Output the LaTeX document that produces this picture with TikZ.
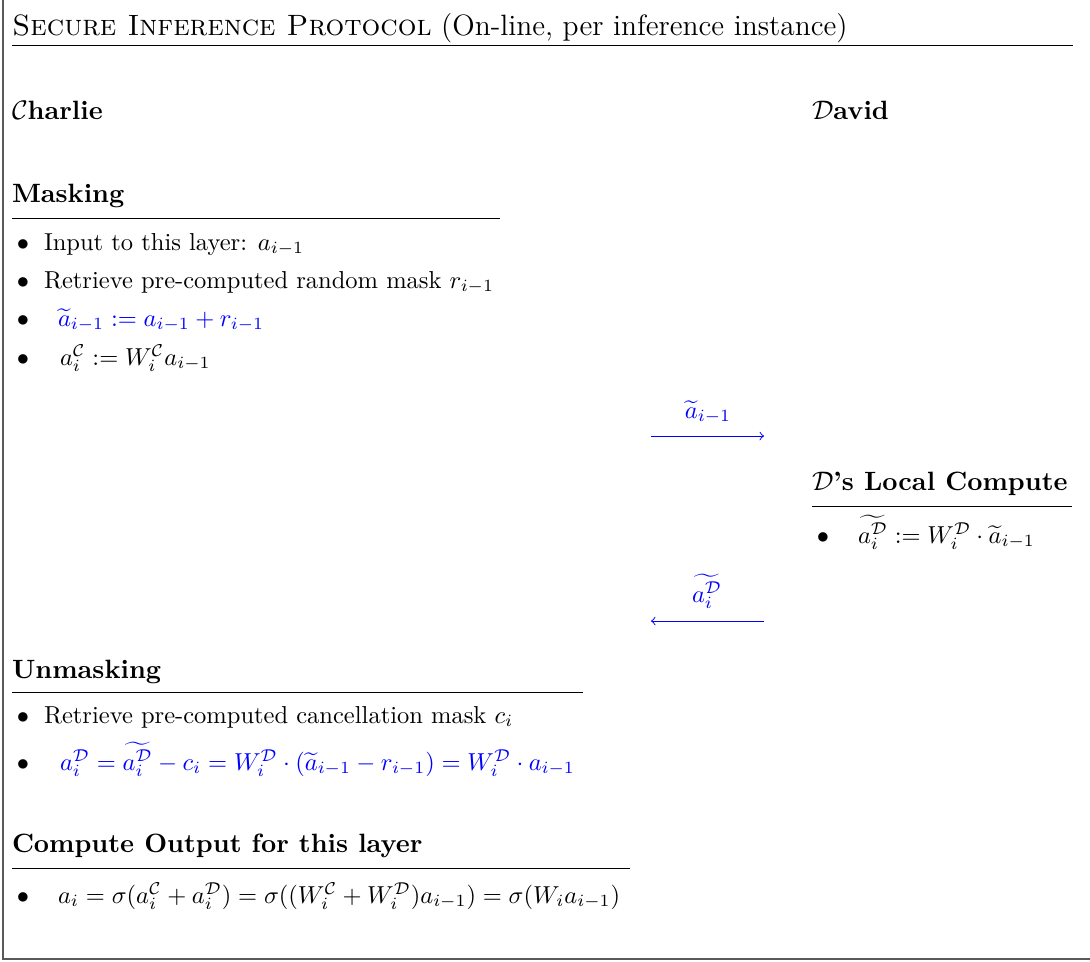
\documentclass[tikz,border=0pt]{standalone}
\usepackage{amsmath,amssymb}
\begin{document}
\begin{tikzpicture}[x=0.408pt,y=-0.408pt,
  txt/.style={anchor=base west,inner sep=0pt,outer sep=0pt,font=\fontsize{10}{12}\selectfont},
  hd/.style={anchor=base west,inner sep=0pt,outer sep=0pt,font=\fontsize{10.8}{13.4}\selectfont\bfseries},
  lbl/.style={anchor=base,inner sep=0pt,text=blue,font=\fontsize{10}{12}\selectfont},
  rulex/.style={line width=0.4pt,black},
  msg/.style={blue,line width=0.4pt,->},
  bul/.style={anchor=base,inner sep=0pt,font=\fontsize{10}{12}\selectfont}]
\useasboundingbox (0,0) rectangle (1090,961);
% frame
\draw[line width=0.6pt,black!65] (3,0) -- (3,959) -- (1090,959);
% title
\node[anchor=base west,inner sep=0pt,font=\fontsize{12}{14.5}\selectfont] (title) at (12,35) {\textsc{Secure Inference Protocol} (On-line, per inference instance)};
\draw[rulex] (12,45) -- (1073,45);
% parties
\node[hd] (charlie) at (12,119) {$\mathcal{C}$harlie};
\node[hd] (david) at (812,119) {$\mathcal{D}$avid};
% Masking
\node[hd] (mask) at (12,202) {Masking};
\draw[rulex] (12,218) -- (500,218);
\node[bul] (b1) at (23,250) {$\bullet$};
\node[txt] (i1) at (44,250) {Input to this layer: $a_{i-1}$};
\node[bul] (b2) at (23,288) {$\bullet$};
\node[txt] (i2) at (44,288) {Retrieve pre-computed random mask $r_{i-1}$};
\node[bul] (b3) at (23,326) {$\bullet$};
\node[txt,text=blue] (i3) at (58,326) {$\widetilde{a}_{i-1} := a_{i-1} + r_{i-1}$};
\node[bul] (b4) at (23,365) {$\bullet$};
\node[txt] (i4) at (60,365) {$a_i^{\mathcal{C}} := W_i^{\mathcal{C}} a_{i-1}$};
% message 1
\coordinate (m1s) at (651,436);
\coordinate (m1e) at (764,436);
\draw[msg] (m1s) -- (m1e);
\node[lbl] (l1) at (708,418) {$\widetilde{a}_{i-1}$};
% D local compute
\node[hd] (dlc) at (812,490) {$\mathcal{D}$'s Local Compute};
\draw[rulex] (812,506) -- (1072,506);
\node[bul] (b5) at (823,543) {$\bullet$};
\node[txt] (i5) at (858,543) {$\widetilde{a_i^{\mathcal{D}}} := W_i^{\mathcal{D}} \cdot \widetilde{a}_{i-1}$};
% message 2
\coordinate (m2s) at (764,621);
\coordinate (m2e) at (651,621);
\draw[msg] (m2s) -- (m2e);
\node[lbl] (l2) at (707,602) {$\widetilde{a_i^{\mathcal{D}}}$};
% Unmasking
\node[hd] (unmask) at (12,678) {Unmasking};
\draw[rulex] (12,692) -- (583,692);
\node[bul] (b6) at (23,723) {$\bullet$};
\node[txt] (i6) at (44,723) {Retrieve pre-computed cancellation mask $c_i$};
\node[bul] (b7) at (23,770) {$\bullet$};
\node[txt,text=blue] (i7) at (60,770) {$a_i^{\mathcal{D}} = \widetilde{a_i^{\mathcal{D}}} - c_i = W_i^{\mathcal{D}} \cdot (\widetilde{a}_{i-1} - r_{i-1}) = W_i^{\mathcal{D}} \cdot a_{i-1}$};
% Compute output
\node[hd] (cout) at (12,852) {Compute Output for this layer};
\draw[rulex] (12,868) -- (630,868);
\node[bul] (b8) at (23,903) {$\bullet$};
\node[txt] (i8) at (58,903) {$a_i = \sigma(a_i^{\mathcal{C}} + a_i^{\mathcal{D}}) = \sigma((W_i^{\mathcal{C}} + W_i^{\mathcal{D}})a_{i-1}) = \sigma(W_i a_{i-1})$};
\end{tikzpicture}
\end{document}
